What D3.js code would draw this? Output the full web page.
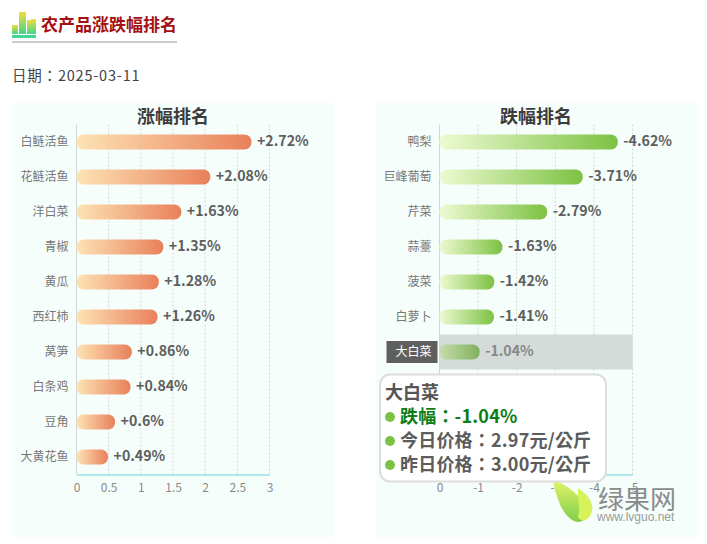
<!DOCTYPE html>
<html lang="zh">
<head>
    <meta charset="UTF-8">
    <title>农产品涨跌幅排名</title>
    <script src="https://d3js.org/d3.v7.min.js"></script>
    <style>
        html, body { margin: 0; padding: 0; background: #fff; }
        svg { display: block; font-family: "Noto Sans CJK SC", "Noto Sans", sans-serif; }
    </style>
</head>
<body>
    <div id="chart"></div>
    <script>
        // values
        const riseNames = ["白鲢活鱼", "花鲢活鱼", "洋白菜", "青椒", "黄瓜", "西红柿", "莴笋", "白条鸡", "豆角", "大黄花鱼"];
        const riseValues = [2.72, 2.08, 1.63, 1.35, 1.28, 1.26, 0.86, 0.84, 0.6, 0.49];
        const riseLabels = ["+2.72%", "+2.08%", "+1.63%", "+1.35%", "+1.28%", "+1.26%", "+0.86%", "+0.84%", "+0.6%", "+0.49%"];
        const riseTicks = [0, 0.5, 1, 1.5, 2, 2.5, 3];

        // the last three rows are hidden behind the tooltip
        const fallNames = ["鸭梨", "巨峰葡萄", "芹菜", "蒜薹", "菠菜", "白萝卜", "大白菜"];
        const fallValues = [4.62, 3.71, 2.79, 1.63, 1.42, 1.41, 1.04];
        const fallLabels = ["-4.62%", "-3.71%", "-2.79%", "-1.63%", "-1.42%", "-1.41%", "-1.04%"];
        const fallTicks = [0, 1, 2, 3, 4, 5];
        const rowCount = 10;
        const highlightName = "大白菜";

        const tooltipTitle = "大白菜";
        const tooltipLines = ["跌幅：-1.04%", "今日价格：2.97元/公斤", "昨日价格：3.00元/公斤"];

        const width = 707;
        const height = 544;
        // TC has the colon centred in its box, like the reference
        const colonFont = "'Noto Sans CJK TC', sans-serif";

        const svg = d3.select("#chart").append("svg")
            .attr("width", width)
            .attr("height", height);

        const defs = svg.append("defs");

        function addGradient(id, from, to) {
            const g = defs.append("linearGradient").attr("id", id);
            g.append("stop").attr("offset", "0%").attr("stop-color", from);
            g.append("stop").attr("offset", "100%").attr("stop-color", to);
        }
        addGradient("riseGrad", "#fde3b4", "#e9805a");
        addGradient("fallGrad", "#eefad2", "#7cc242");
        addGradient("fallGradDim", "#c6dcab", "#7fb05c");

        const iconGrad = defs.append("linearGradient").attr("id", "iconGrad")
            .attr("x1", 0).attr("y1", 0).attr("x2", 0).attr("y2", 1);
        iconGrad.append("stop").attr("offset", "0%").attr("stop-color", "#f2dc3c");
        iconGrad.append("stop").attr("offset", "100%").attr("stop-color", "#3fd68a");

        const leafGrad = defs.append("linearGradient").attr("id", "leafGrad")
            .attr("x1", 0).attr("y1", 0).attr("x2", 0).attr("y2", 1);
        leafGrad.append("stop").attr("offset", "0%").attr("stop-color", "#e8f56a");
        leafGrad.append("stop").attr("offset", "100%").attr("stop-color", "#7fcf4a");

        // header
        const head = svg.append("g");
        [[12, 25, 6], [19, 12, 7], [27, 20, 4], [31, 19, 5]].forEach(b => {
            head.append("rect").attr("x", b[0]).attr("y", b[1])
                .attr("width", b[2]).attr("height", 34 - b[1])
                .attr("fill", "url(#iconGrad)");
        });
        head.append("rect").attr("x", 12).attr("y", 35).attr("width", 24).attr("height", 3).attr("fill", "#44d698");
        head.append("rect").attr("x", 12).attr("y", 41).attr("width", 165).attr("height", 2).attr("fill", "#cfcbcb");
        head.append("text").attr("x", 41).attr("y", 31)
            .attr("font-size", 17).attr("font-weight", 700).attr("fill", "#a30f12")
            .text("农产品涨跌幅排名");
        svg.append("text").attr("x", 12).attr("y", 81)
            .attr("font-size", 14.5).attr("letter-spacing", 0.8).attr("fill", "#444")
            .attr("font-family", colonFont).attr("lang", "zh-TW")
            .text("日期：2025-03-11");

        function drawPanel(opt) {
            const g = svg.append("g");

            g.append("rect")
                .attr("x", opt.panelX).attr("y", 103)
                .attr("width", opt.panelW).attr("height", 434)
                .attr("fill", "#f6fefc");

            g.append("text")
                .attr("x", opt.titleX).attr("y", 123)
                .attr("text-anchor", "middle")
                .attr("font-size", 18).attr("font-weight", 700).attr("fill", "#3c3c3c")
                .text(opt.title);

            const x = d3.scaleLinear().domain(opt.domain).range(opt.range);
            const y = d3.scaleBand().domain(d3.range(rowCount)).range([124.5, 474.5]);

            // highlighted row goes under the grid
            opt.names.forEach((name, i) => {
                if (name === highlightName) {
                    g.append("rect")
                        .attr("x", opt.range[0]).attr("y", y(i))
                        .attr("width", opt.range[1] - opt.range[0]).attr("height", y.bandwidth())
                        .attr("fill", "#d4dbd9");
                }
            });

            // dotted grid
            g.selectAll(".grid").data(opt.ticks.slice(1)).enter().append("line")
                .attr("x1", d => x(d)).attr("x2", d => x(d))
                .attr("y1", 124.5).attr("y2", 474.5)
                .attr("stroke", "#d2d6d6").attr("stroke-dasharray", "2,2");

            // axes
            const axisX = g.append("g")
                .attr("transform", "translate(0,474.5)")
                .call(d3.axisBottom(x).tickValues(opt.ticks).tickSize(0).tickPadding(9)
                    .tickFormat(opt.tickFormat));
            axisX.select(".domain").attr("stroke", "#62d8dc").attr("stroke-width", 1.2);
            axisX.selectAll("text").attr("font-size", 12).attr("fill", "#8a8a8a")
                .attr("font-family", "'Noto Sans CJK SC', sans-serif");

            g.append("line")
                .attr("x1", opt.range[0]).attr("x2", opt.range[0])
                .attr("y1", 124.5).attr("y2", 474.5)
                .attr("stroke", "#cfd6d6");

            const rows = g.selectAll(".row").data(opt.values).enter().append("g");

            rows.append("rect")
                .attr("x", opt.range[0])
                .attr("y", (d, i) => y(i) + y.bandwidth() / 2 - 7.5)
                .attr("width", d => x(d) - opt.range[0])
                .attr("height", 15)
                .attr("rx", 7)
                .attr("fill", (d, i) => {
                    if (opt.names[i] === highlightName) return "url(#fallGradDim)";
                    return `url(#${opt.grad})`;
                });

            rows.append("text")
                .attr("x", d => x(d) + 5.5)
                .attr("y", (d, i) => y(i) + y.bandwidth() / 2 + 4)
                .attr("font-size", 14.2).attr("font-weight", 700)
                .attr("fill", (d, i) => opt.names[i] === highlightName ? "#858a88" : "#5e5e5e")
                .text((d, i) => opt.labels[i]);

            // category names
            opt.names.forEach((name, i) => {
                const cy = y(i) + y.bandwidth() / 2;
                if (name === highlightName) {
                    g.append("rect")
                        .attr("x", opt.range[0] - 53).attr("y", cy - 11)
                        .attr("width", 51).attr("height", 22)
                        .attr("fill", "#5f5f5f");
                }
                g.append("text")
                    .attr("x", opt.range[0] - 8)
                    .attr("y", cy + 4)
                    .attr("text-anchor", "end")
                    .attr("font-size", 12)
                    .attr("fill", name === highlightName ? "#fff" : "#777")
                    .text(name);
            });
        }

        drawPanel({
            panelX: 12, panelW: 323, titleX: 173, title: "涨幅排名",
            domain: [0, 3], range: [76.5, 269.5],
            names: riseNames, values: riseValues, labels: riseLabels, ticks: riseTicks,
            tickFormat: d => d, grad: "riseGrad"
        });

        drawPanel({
            panelX: 376, panelW: 324, titleX: 536, title: "跌幅排名",
            domain: [0, 5], range: [439.5, 632.5],
            names: fallNames, values: fallValues, labels: fallLabels, ticks: fallTicks,
            tickFormat: d => d === 0 ? "0" : "-" + d, grad: "fallGrad"
        });

        // watermark
        const mark = svg.append("g");
        mark.append("path")
            .attr("d", "M552 478 C566 486 586 496 586 514 C586 522 578 524 572 520 C560 512 556 494 552 478 Z")
            .attr("fill", "url(#leafGrad)");
        mark.append("path")
            .attr("d", "M578 488 C590 496 596 506 590 516 C586 523 577 520 578 516 C581 508 577 498 578 488 Z")
            .attr("fill", "#d8f25c");
        mark.append("text").attr("x", 598).attr("y", 509)
            .attr("font-size", 26).attr("fill", "#8b8b8b").text("绿果网");
        mark.append("text").attr("x", 597).attr("y", 521)
            .attr("font-size", 12).attr("fill", "#9a9a9a")
            .attr("font-family", "'Liberation Sans', sans-serif").text("www.lvguo.net");

        // tooltip
        const tip = svg.append("g");
        tip.append("rect")
            .attr("x", 380).attr("y", 374.5).attr("width", 226).attr("height", 107)
            .attr("rx", 10)
            .attr("fill", "#fff").attr("stroke", "#dddddd").attr("stroke-width", 2);
        tip.append("text").attr("x", 385).attr("y", 399)
            .attr("font-size", 18).attr("font-weight", 700).attr("fill", "#555")
            .text(tooltipTitle);
        tooltipLines.forEach((line, i) => {
            const cy = 417 + i * 24;
            tip.append("circle").attr("cx", 390).attr("cy", cy).attr("r", 5).attr("fill", "#7cc242");
            tip.append("text").attr("x", 400).attr("y", cy + 6)
                .attr("font-size", 18).attr("font-weight", 700).attr("letter-spacing", 0.2)
                .attr("font-family", colonFont).attr("lang", "zh-TW")
                .attr("fill", i === 0 ? "#0b7d14" : "#5c5c5c")
                .text(line);
        });
    </script>
</body>
</html>
